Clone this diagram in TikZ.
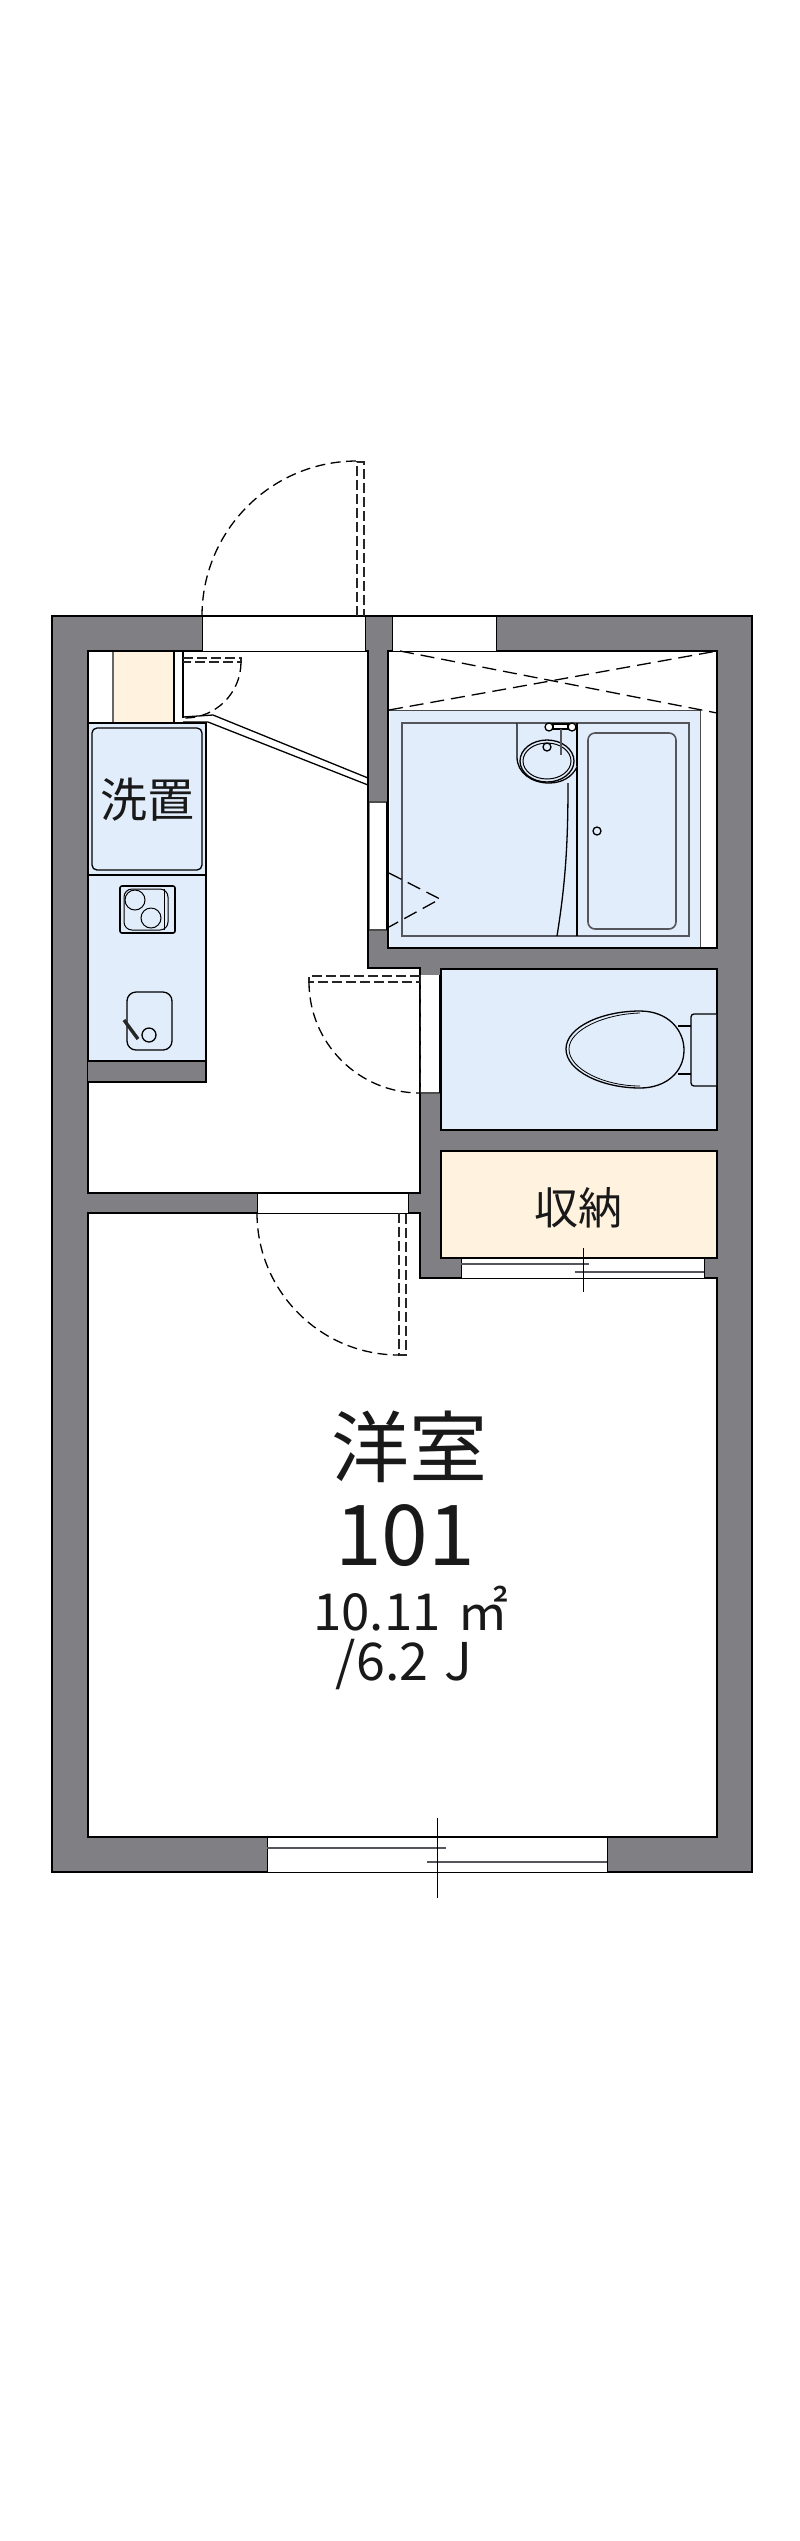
\documentclass[tikz,border=0pt]{standalone}
\usepackage{fontspec}
\newfontfamily\cjk{Noto Sans CJK JP}
\definecolor{wallgray}{HTML}{807F84}
\definecolor{wetblue}{HTML}{E2EDFC}
\definecolor{storetan}{HTML}{FFF3E0}
\definecolor{fixgray}{HTML}{55565C}
\tikzset{
  room/.style={draw=black,line width=2.8pt,fill=white,line join=miter},
  gap/.style={draw=black,line width=1pt,fill=white},
  fixture/.style={draw=black,line width=1.3pt},
  swing/.style={draw=black,line width=1.3pt,dash pattern=on 10pt off 5.5pt},
  leaf/.style={draw=black!85,line width=1.2pt,dash pattern=on 10pt off 4pt},
  sash/.style={draw=fixgray,line width=1.6pt},
  label/.style={font=\cjk,inner sep=0pt,text=black!90}
}
\begin{document}
\begin{tikzpicture}[x=1pt,y=-1pt,>=stealth]
\useasboundingbox (0,0) rectangle (800,2541);
% walls
\fill[wallgray,draw=black,line width=2.8pt] (52,616) rectangle (752,1872);
% rooms
\draw[room] (88,651) -- (368,651) -- (368,968) -- (420,968) -- (420,1193)
  -- (88,1193) -- cycle;
\draw[room] (88,1213) -- (420,1213) -- (420,1278) -- (717,1278) -- (717,1837)
  -- (88,1837) -- cycle;
\draw[room] (388,651) rectangle (717,948);
\draw[room,fill=wetblue] (441,969) rectangle (717,1130);
\draw[room,fill=storetan] (441,1151) rectangle (717,1258);
% kitchen
\fill[storetan] (113,652) rectangle (174,723);
\draw[draw=black!60,line width=1.2pt] (113,652) -- (113,723);
\draw[line width=1.4pt] (174,652) -- (174,723);
\draw[line width=1.4pt] (183,652) -- (183,718);
\draw[fixture,fill=wetblue] (88,723) rectangle (206,1061);
\draw[room,fill=wallgray] (88,1061) -- (206,1061) -- (206,1082) -- (88,1082);
\draw[fixture] (88,875) -- (206,875);
\draw[fixture,rounded corners=5pt] (92,728) rectangle (202,870);
\node[label,font=\cjk\fontsize{47}{47}\selectfont] (washer) at (147,800) {洗置};
\draw[fixture,line width=1.6pt,rounded corners=2pt] (120,886) rectangle (175,933);
\draw[fixture,line width=1pt,rounded corners=8pt] (124,889) -- (168,889) -- (168,930) -- (124,930) -- cycle;
\draw[fixture,line width=1pt] (164,889) -- (164,930);
\draw[fixture,line width=1pt] (135,900) circle[radius=10pt];
\draw[fixture,line width=1pt] (151,918) circle[radius=10pt];
\draw[fixture,rounded corners=9pt] (127,992) rectangle (172,1050);
\draw[fixture] (149,1035) circle[radius=7pt];
\draw[black!85,line width=3.4pt] (124,1020) -- (138,1039);
% entry door
\draw[gap] (202,616) rectangle (365,651);
\draw[leaf] (357,616) -- (357,462) -- (364,462) -- (364,616);
\draw[swing] (202,616) arc[start angle=180,end angle=90,radius=155pt];
\draw[leaf] (183,658) -- (241,658) -- (241,662) -- (183,662);
\draw[swing] (241,662) arc[start angle=0,end angle=-90,radius=56pt];
\draw[line width=1.3pt] (183,717) -- (213,715) -- (368,778);
\draw[line width=1.3pt] (183,722) -- (208,722) -- (368,785);
% bath
\draw[gap] (392,616) rectangle (496,651);
\fill[wetblue] (389.5,710) rectangle (700,946.6);
\draw[line width=1pt,black!70] (389,710) -- (700,710) -- (700,947);
\draw[fill=white,draw=none] (369.5,802) rectangle (386.6,930);
\draw[line width=1.2pt,black!70] (369,802) -- (387,802) (369,930) -- (387,930);
\draw[line width=1.6pt] (387,802) -- (387,930);
\draw[sash,fill=wetblue] (402,723) rectangle (689,936);
\draw[fixture,rounded corners=7pt,draw=fixgray,line width=1.6pt] (588,733) rectangle (676,929);
\draw[fixture] (577,723) -- (577,936);
\draw[fixture] (597,831) circle[radius=4pt];
\draw[swing,dash pattern=on 14pt off 7pt] (400,651) -- (717,713);
\draw[swing,dash pattern=on 14pt off 7pt] (389,710) -- (717,651);
\draw[swing,dash pattern=on 14pt off 7pt] (389,873) -- (440,899) -- (389,927);
\draw[fixture,fill=wetblue] (517,723) -- (517,757) .. controls (517,773) and (532,783) .. (549,783)
  .. controls (562,783) and (572,777) .. (577,767);
\draw[fixture,fill=wetblue] (547,761) ellipse[x radius=27pt,y radius=21pt];
\draw[fixture,line width=1pt] (547,761) ellipse[x radius=24pt,y radius=18pt];
\draw[fixture] (547,747) circle[radius=4pt];
\draw[fixture,fill=white] (553,724) rectangle (568,729);
\draw[fixture,fill=white] (549,727) circle[radius=4pt];
\draw[fixture,fill=white] (572,727) circle[radius=4pt];
\draw[fixture,line width=2.6pt,draw=fixgray] (561,729) -- (561,755);
\draw[fixture] (568,783) .. controls (568,840) and (566,880) .. (557,936);
% toilet
\fill[white] (421.4,975) rectangle (439.6,1093);
\draw[line width=1.2pt,black!70] (421,1093) -- (440,1093);
\draw[line width=1.2pt,black] (440,975) -- (440,1093);
\draw[leaf,line width=1pt] (420,975) -- (420,1093);
\draw[leaf] (420,976) -- (309,976) -- (309,982) -- (420,982);
\draw[swing] (309,982) arc[start angle=180,end angle=270,radius=111pt];
\draw[fixture,fill=wetblue,rounded corners=3pt] (716,1014) -- (691,1014) -- (691,1086) -- (716,1086);
\draw[fixture] (678,1026) -- (691,1026) (678,1074) -- (691,1074);
\draw[fixture,fill=wetblue] (566,1049) .. controls (566,1027) and (602,1011) .. (640,1011)
  .. controls (668,1011) and (684,1030) .. (684,1050)
  .. controls (684,1072) and (666,1088) .. (640,1088)
  .. controls (602,1088) and (566,1071) .. (566,1049) -- cycle;
\draw[fixture,line width=.8pt] (569,1049) .. controls (569,1030) and (604,1014) .. (640,1013);
\draw[fixture,line width=.8pt] (569,1049) .. controls (569,1069) and (604,1086) .. (640,1086);
% inner door
\draw[gap] (257,1193) rectangle (408,1213);
\draw[leaf] (399,1213) -- (399,1355) -- (406,1355) -- (406,1213);
\draw[swing] (257,1213) arc[start angle=180,end angle=270,radius=142pt];
% closet door
\draw[gap] (461,1258) rectangle (704,1278);
\draw[sash,line width=1.2pt] (461,1264) -- (589,1264);
\draw[sash,line width=1.2pt] (575,1272) -- (704,1272);
\draw[line width=1pt] (583,1248) -- (583,1292);
% south window
\draw[gap] (267,1837) rectangle (607,1872);
\draw[sash] (267,1848) -- (446,1848);
\draw[sash] (427,1862) -- (607,1862);
\draw[line width=1pt] (437.5,1818) -- (437.5,1898);
% labels
\node[label,font=\cjk\fontsize{44}{44}\selectfont] (closet) at (578,1208) {収納};
\node[label,font=\cjk\fontsize{78}{78}\selectfont] (roomname) at (409,1447) {洋室};
\node[label,font=\cjk\fontsize{84}{84}\selectfont] (roomno) at (405,1536) {101};
\node[label,font=\cjk\fontsize{51}{51}\selectfont] (area) at (411,1609) {10.11\hspace{17pt}㎡};
\node[label,font=\cjk\fontsize{52}{52}\selectfont] (mats) at (404,1664) {/6.2\hspace{4pt} J};
\end{tikzpicture}
\end{document}
